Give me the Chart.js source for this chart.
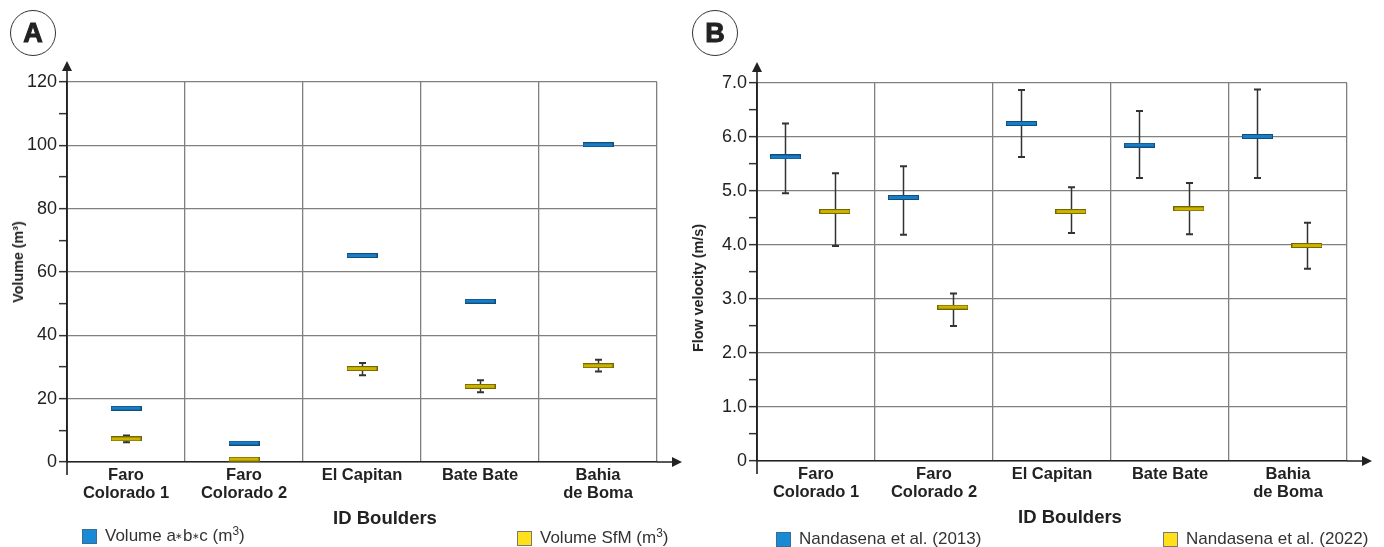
<!DOCTYPE html>
<html><head><meta charset="utf-8">
<script src="https://cdn.jsdelivr.net/npm/chart.js@4.4.1/dist/chart.umd.min.js"></script>
<style>
html,body{margin:0;padding:0;background:#fff;}
#wrap{position:relative;width:1384px;height:547px;overflow:hidden;font-family:"Liberation Sans",Arial,sans-serif;color:#222;}
canvas{position:absolute;top:0;}
.circ{position:absolute;width:44px;height:44px;border:1.5px solid #333;border-radius:50%;font-weight:bold;font-size:27px;line-height:45px;text-align:center;-webkit-text-stroke:1px #222;color:#222;}
.xt{position:absolute;font-weight:bold;font-size:18.5px;transform:translate(-50%,-50%);white-space:nowrap;color:#222;}
.yt{position:absolute;font-weight:bold;font-size:14.3px;transform:translate(-50%,-50%) rotate(-90deg);white-space:nowrap;color:#222;}
.lg{position:absolute;display:flex;align-items:center;font-size:17px;white-space:nowrap;color:#333;height:16px;}
.sw{display:inline-block;width:15px;height:15px;margin-right:8px;box-sizing:border-box;}
.sup{font-size:0.7em;position:relative;top:-0.45em;}
.ast{font-size:0.5em;margin:0 -0.5px;}
</style></head><body>
<div id="wrap">
<canvas id="cA" width="690" height="547" style="left:0"></canvas>
<canvas id="cB" width="704" height="547" style="left:680px"></canvas>
<div class="circ" style="left:10px;top:10px">A</div>
<div class="circ" style="left:692px;top:10px">B</div>
<div class="yt" style="left:18px;top:262px">Volume (m³)</div>
<div class="yt" style="left:698px;top:288px">Flow velocity (m/s)</div>
<div class="xt" style="left:385px;top:518px">ID Boulders</div>
<div class="xt" style="left:1070px;top:517px">ID Boulders</div>
<div class="lg" style="left:82px;top:528px"><span class="sw" style="background:#1a8ad4;border:1px solid #3a6d95"></span>Volume a<span class="ast">∗</span>b<span class="ast">∗</span>c (m<span class="sup">3</span>)</div>
<div class="lg" style="left:517px;top:530px"><span class="sw" style="background:#ffe01a;border:1px solid #777"></span>Volume SfM (m<span class="sup">3</span>)</div>
<div class="lg" style="left:776px;top:531px"><span class="sw" style="background:#1a8ad4;border:1px solid #3a6d95"></span>Nandasena et al. (2013)</div>
<div class="lg" style="left:1163px;top:531px"><span class="sw" style="background:#ffe01a;border:1px solid #777"></span>Nandasena et al. (2022)</div>
</div>
<script>
// ---- data ----
const categories = [['Faro', 'Colorado 1'], ['Faro', 'Colorado 2'], 'El Capitan', 'Bate Bate', ['Bahia', 'de Boma']];

// Panel A: volume (m3)
const volumeABC = [17.0, 6.0, 65.2, 50.8, 100.2];
const volumeSfM = [7.3, 0.9, 29.5, 23.9, 30.4];
const volumeSfMLow = [6.2, 0.4, 27.4, 22.0, 28.6];
const volumeSfMHigh = [8.4, 1.3, 31.3, 25.8, 32.3];

// Panel B: flow velocity (m/s)
const nand2013 = [5.63, 4.88, 6.25, 5.85, 6.01];
const nand2013Low = [4.96, 4.19, 5.63, 5.24, 5.24];
const nand2013High = [6.25, 5.46, 6.87, 6.48, 6.88];
const nand2022 = [4.62, 2.85, 4.62, 4.67, 3.99];
const nand2022Low = [3.98, 2.50, 4.22, 4.20, 3.56];
const nand2022High = [5.33, 3.10, 5.07, 5.15, 4.41];

const yTicksA = [0, 20, 40, 60, 80, 100, 120];
const yTicksB = [0, 1, 2, 3, 4, 5, 6, 7];

// ---- styles ----
const GRID = '#808080';
const AXIS = '#222';
const FONT = '"Liberation Sans", Arial, sans-serif';

function barImg(w, h, fill, stroke) {
  const c = document.createElement('canvas');
  c.width = w; c.height = h;
  const g = c.getContext('2d');
  g.fillStyle = stroke; g.fillRect(0, 0, w, h);
  g.fillStyle = fill; g.fillRect(1, 1, w - 2, h - 2);
  return c;
}
const blueBar = barImg(31, 5, '#1a7cc4', '#0f4f7e');
const yellowBar = barImg(31, 5, '#cbb300', '#746600');

const errorBars = {
  id: 'errorBars',
  beforeDatasetsDraw(chart) {
    const ctx = chart.ctx, ys = chart.scales.y;
    chart.data.datasets.forEach((ds, di) => {
      if (!ds.errLow) return;
      const meta = chart.getDatasetMeta(di);
      ctx.save();
      ctx.strokeStyle = '#333';
      meta.data.forEach((pt, i) => {
        const x = Math.round(pt.x) + 0.5;
        const y1 = ys.getPixelForValue(ds.errLow[i]);
        const y2 = ys.getPixelForValue(ds.errHigh[i]);
        ctx.lineWidth = 1.5;
        ctx.beginPath(); ctx.moveTo(x, y1); ctx.lineTo(x, y2); ctx.stroke();
        ctx.lineWidth = 2;
        ctx.beginPath();
        ctx.moveTo(x - 3.5, y1); ctx.lineTo(x + 3.5, y1);
        ctx.moveTo(x - 3.5, y2); ctx.lineTo(x + 3.5, y2);
        ctx.stroke();
      });
      ctx.restore();
    });
  }
};

const axisArrows = {
  id: 'axisArrows',
  afterDraw(chart) {
    const ctx = chart.ctx, a = chart.chartArea;
    ctx.save();
    ctx.strokeStyle = AXIS; ctx.fillStyle = AXIS; ctx.lineWidth = 1.6;
    ctx.beginPath();
    ctx.moveTo(a.left, a.bottom + 13); ctx.lineTo(a.left, a.top - 12);
    ctx.moveTo(a.right, a.bottom); ctx.lineTo(a.right + 16, a.bottom);
    ctx.stroke();
    ctx.beginPath();
    ctx.moveTo(a.left, a.top - 21); ctx.lineTo(a.left - 5, a.top - 11); ctx.lineTo(a.left + 5, a.top - 11);
    ctx.closePath(); ctx.fill();
    ctx.beginPath();
    ctx.moveTo(a.right + 25, a.bottom); ctx.lineTo(a.right + 15, a.bottom - 5); ctx.lineTo(a.right + 15, a.bottom + 5);
    ctx.closePath(); ctx.fill();
    ctx.restore();
  }
};

function pts(vals, off) { return vals.map((v, i) => ({ x: i + off, y: v })); }

function makeChart(id, cfg) {
  const halfTicks = [];
  for (let i = 0; i <= categories.length * 2; i++) halfTicks.push(i / 2);
  return new Chart(document.getElementById(id), {
    type: 'scatter',
    data: { datasets: cfg.datasets },
    options: {
      responsive: false, animation: false, devicePixelRatio: 1,
      layout: { padding: cfg.padding },
      plugins: { legend: { display: false }, tooltip: { enabled: false } },
      scales: {
        x: {
          type: 'linear', min: 0, max: categories.length,
          afterBuildTicks: s => { s.ticks = halfTicks.map(v => ({ value: v })); },
          afterFit: s => { s.height = cfg.xHeight; },
          grid: {
            color: c => (c.tick && Number.isInteger(c.tick.value)) ? GRID : 'transparent',
            lineWidth: 1.3, drawTicks: false
          },
          border: { color: AXIS, width: 1.6 },
          ticks: {
            autoSkip: false, maxRotation: 0, padding: 4, color: '#222',
            font: { family: FONT, size: 16.5, weight: 'bold', lineHeight: 1.1 },
            callback: v => Number.isInteger(v) ? '' : categories[Math.floor(v)]
          }
        },
        y: {
          min: 0, max: cfg.yMax,
          afterBuildTicks: s => {
            const t = [];
            for (let i = 0; i < cfg.yLabels.length; i++) {
              t.push({ value: cfg.yLabels[i] });
              if (i < cfg.yLabels.length - 1) t.push({ value: (cfg.yLabels[i] + cfg.yLabels[i + 1]) / 2 });
            }
            s.ticks = t;
          },
          afterFit: s => { s.width = cfg.yWidth; },
          grid: {
            color: c => (c.tick && cfg.yLabels.includes(c.tick.value)) ? GRID : 'transparent',
            tickColor: '#333', tickLength: 8, lineWidth: 1.3, tickWidth: 1.5
          },
          border: { color: AXIS, width: 1.6 },
          title: { display: false, text: cfg.yTitle },
          ticks: {
            autoSkip: false, padding: 2, color: '#222',
            font: { family: FONT, size: 18 },
            callback: v => cfg.yLabels.includes(v) ? cfg.fmt(v) : ''
          }
        }
      }
    },
    plugins: [errorBars, axisArrows]
  });
}

makeChart('cA', {
  padding: { top: 82, right: 33, bottom: 0, left: 0 },
  xHeight: 85, yWidth: 67, yMax: 120, yLabels: yTicksA,
  yTitle: 'Volume (m³)', fmt: v => String(v),
  datasets: [
    { label: 'Volume a∗b∗c (m3)', data: pts(volumeABC, 0.5), pointStyle: blueBar, pointRadius: 3 },
    { label: 'Volume SfM (m3)', data: pts(volumeSfM, 0.5), pointStyle: yellowBar, pointRadius: 3,
      errLow: volumeSfMLow, errHigh: volumeSfMHigh }
  ]
});

makeChart('cB', {
  padding: { top: 83, right: 37, bottom: 0, left: 0 },
  xHeight: 86, yWidth: 77, yMax: 7, yLabels: yTicksB,
  yTitle: 'Flow velocity (m/s)', fmt: v => v === 0 ? '0' : v.toFixed(1),
  datasets: [
    { label: 'Nandasena et al. (2013)', data: pts(nand2013, 0.24), pointStyle: blueBar, pointRadius: 3,
      errLow: nand2013Low, errHigh: nand2013High },
    { label: 'Nandasena et al. (2022)', data: pts(nand2022, 0.66), pointStyle: yellowBar, pointRadius: 3,
      errLow: nand2022Low, errHigh: nand2022High }
  ]
});
</script>
</body></html>
